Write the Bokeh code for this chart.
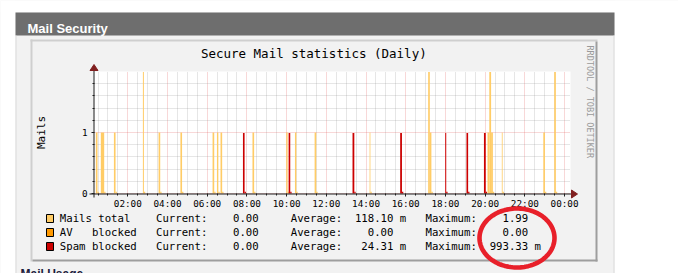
import numpy as np
from bokeh.plotting import figure
from bokeh.models import Range1d, FixedTicker, BoxAnnotation, Label, PolyAnnotation, Grid
from bokeh.embed import file_html
from bokeh.resources import INLINE

# ------------------------------------------------------------------ data
hour_ticks = [2, 4, 6, 8, 10, 12, 14, 16, 18, 20, 22, 24]
hour_labels = ["02:00", "04:00", "06:00", "08:00", "10:00", "12:00",
               "14:00", "16:00", "18:00", "20:00", "22:00", "00:00"]
y_ticks = [0, 1]
y_labels = ["0", "1"]

step_hours = 5 / 60          # rrd step (5 minutes)
tail_value = 0.028           # small residue drawn after each burst

# Mails total (start hour, width in hours, value)
mails_start = [0.39, 0.64, 1.30, 2.76, 3.55, 4.65, 6.27, 6.49, 6.67, 8.28,
               9.98, 10.42, 11.41, 14.18, 17.13, 17.21, 20.12, 20.21, 20.30,
               20.84, 22.93, 23.48]
mails_width = [0.083, 0.17, 0.083, 0.05, 0.083, 0.083, 0.083, 0.07, 0.083, 0.083,
               0.07, 0.07, 0.083, 0.04, 0.083, 0.083, 0.09, 0.09, 0.09,
               0.04, 0.083, 0.083]
mails_value = [1, 1, 1, 1.99, 1, 1, 1, 1, 1, 1,
               1, 1, 1, 1, 1.99, 1, 1, 1.99, 1,
               1, 1, 1.99]

# Spam blocked
spam_start = [7.80, 10.10, 13.32, 15.72, 17.99, 19.06, 19.94]
spam_width = [0.083, 0.083, 0.09, 0.09, 0.05, 0.083, 0.09]
spam_value = [0.99, 0.99, 0.99, 0.99, 0.99, 0.99, 0.99]

series_names = ["Mails total", "AV   blocked", "Spam blocked"]
series_colors = ["#FFCC66", "#FF9900", "#CC0000"]
current_vals = [0.00, 0.00, 0.00]
current_units = [" ", " ", " "]
average_vals = [118.10, 0.00, 24.31]
average_units = ["m", " ", "m"]
maximum_vals = [1.99, 0.00, 993.33]
maximum_units = [" ", " ", "m"]

chart_title = "Secure Mail statistics (Daily)"
y_title = "Mails"
watermark = "RRDTOOL / TOBI OETIKER"
panel_title = "Mail Security"
next_panel_title = "Mail Usage"

# ------------------------------------------------------------------ layout
W, H = 678, 273
X_START, X_END = 0.322, 24.30          # visible time window (hours)
Y_START, Y_END = 0.0, 2.0
PX_L, PX_R, PX_T, PX_B = 94, 570, 71, 193   # graph canvas inside the page
MONO = "DejaVu Sans Mono"

sx = (X_END - X_START) / (PX_R - PX_L)
sy = (Y_END - Y_START) / (PX_B - PX_T)
x_range = Range1d(X_START - PX_L * sx, X_END + (W - PX_R) * sx)
y_range = Range1d(Y_START - (H - PX_B) * sy, Y_END + PX_T * sy)

p = figure(width=W, height=H, x_range=x_range, y_range=y_range,
           min_border=0, min_border_left=0, min_border_right=0,
           min_border_top=0, min_border_bottom=0,
           toolbar_location=None, output_backend="svg", title=None)
p.border_fill_color = "#F2F2F2"
p.background_fill_color = "#F2F2F2"
p.outline_line_color = None


def cbox(l, r, t, b, color, line_color=None, lw=1, level="annotation"):
    box = BoxAnnotation(left=l, right=r, top=t, bottom=b,
                        left_units="canvas", right_units="canvas",
                        top_units="canvas", bottom_units="canvas",
                        fill_color=color, fill_alpha=1.0,
                        line_color=line_color, line_width=lw, line_alpha=1.0,
                        level=level)
    p.add_layout(box)
    return box


def clabel(x, y, text, size, font=MONO, color="#000000", align="left",
           baseline="middle", angle=0, style="normal"):
    lab = Label(x=x, y=y, x_units="canvas", y_units="canvas", text=text,
                text_font=font, text_font_size=size, text_color=color,
                text_align=align, text_baseline=baseline, angle=angle,
                text_font_style=style)
    p.add_layout(lab)
    return lab


# page background pieces
cbox(0, 15, 0, H, "#FFFFFF", level="image")
cbox(614, W, 0, H, "#FFFFFF", level="image")
cbox(0, W, 0, 12, "#FFFFFF", level="image")
cbox(15, 614, 12, 35, "#6E6E6E", level="image")
cbox(15, 16, 35, H, "#D9D9D9", level="image")
cbox(613, 614, 35, H, "#D9D9D9", level="image")
# rrd image shading
cbox(30, 597, 39, 41, "#CFCFCF", level="image")
cbox(30, 32, 39, 261, "#CFCFCF", level="image")
cbox(595, 597, 41, 261, "#9E9E9E", level="image")
cbox(32, 597, 259, 261, "#9E9E9E", level="image")
# white graph canvas (data units)
p.add_layout(BoxAnnotation(left=X_START, right=X_END, bottom=Y_START, top=Y_END,
                           fill_color="#FFFFFF", fill_alpha=1.0, line_color=None,
                           level="image"))

# ------------------------------------------------------------------ axes / grid
xt = FixedTicker(ticks=hour_ticks,
                 minor_ticks=[h / 2 for h in range(1, 49) if h % 4 != 0])
yt = FixedTicker(ticks=y_ticks, minor_ticks=[i / 5 for i in range(1, 10) if i != 5])
p.xaxis.ticker = xt
p.yaxis.ticker = yt
p.xaxis.major_label_overrides = {t: l for t, l in zip(hour_ticks, hour_labels)}
p.yaxis.major_label_overrides = {t: l for t, l in zip(y_ticks, y_labels)}
p.xaxis.fixed_location = Y_START
p.yaxis.fixed_location = X_START
p.xaxis.bounds = (X_START, X_END)
p.yaxis.bounds = (Y_START, Y_END)

for ax in (p.xaxis[0], p.yaxis[0]):
    ax.axis_line_color = None
    ax.major_tick_line_color = "#1F1F1F"
    ax.minor_tick_line_color = "#1F1F1F"
    ax.major_tick_in = 0
    ax.major_tick_out = 3
    ax.minor_tick_in = 0
    ax.minor_tick_out = 2
    ax.major_label_text_font = MONO
    ax.major_label_text_font_size = "9.3px"
    ax.major_label_text_color = "#000000"
p.xaxis.major_label_standoff = 1
p.yaxis.major_label_standoff = 4

MAJ_COLOR, MAJ_ALPHA = "#DE4F4F", 0.45
MIN_COLOR, MIN_ALPHA = "#8F8F8F", 0.45
if "cross_bounds" in Grid.properties():
    p.xgrid.ticker = xt
    p.ygrid.ticker = yt
    p.xgrid.bounds = (X_START, X_END)
    p.ygrid.bounds = (Y_START, Y_END)
    p.xgrid.cross_bounds = (Y_START, Y_END)
    p.ygrid.cross_bounds = (X_START, X_END)
    for g in (p.xgrid[0], p.ygrid[0]):
        g.grid_line_color = MAJ_COLOR
        g.grid_line_alpha = MAJ_ALPHA
        g.grid_line_dash = "1 1"
        g.minor_grid_line_color = MIN_COLOR
        g.minor_grid_line_alpha = MIN_ALPHA
        g.minor_grid_line_dash = "1 1"
else:
    p.xgrid.visible = False
    p.ygrid.visible = False
    for ticks, col, alp in ((xt.minor_ticks, MIN_COLOR, MIN_ALPHA),
                            (xt.ticks, MAJ_COLOR, MAJ_ALPHA)):
        p.segment(x0=ticks, x1=ticks, y0=Y_START, y1=Y_END, line_color=col,
                  line_alpha=alp, line_dash="1 1", level="underlay")
    for ticks, col, alp in ((yt.minor_ticks, MIN_COLOR, MIN_ALPHA),
                            (yt.ticks, MAJ_COLOR, MAJ_ALPHA)):
        p.segment(x0=X_START, x1=X_END, y0=ticks, y1=ticks, line_color=col,
                  line_alpha=alp, line_dash="1 1", level="underlay")

# ------------------------------------------------------------------ data marks
ms = np.array(mails_start)
mw = np.array(mails_width)
p.quad(left=ms, right=ms + mw, bottom=0, top=mails_value,
       fill_color=series_colors[0], line_color=None)
p.quad(left=ms + mw, right=ms + mw + step_hours * 0.8, bottom=0, top=tail_value,
       fill_color=series_colors[0], line_color=None)
ss = np.array(spam_start)
sw = np.array(spam_width)
p.quad(left=ss, right=ss + sw, bottom=0, top=spam_value,
       fill_color=series_colors[2], line_color=None)
p.quad(left=ss + sw, right=ss + sw + step_hours * 0.8, bottom=0, top=tail_value,
       fill_color=series_colors[2], line_color=None)

# axis lines with arrows
cbox(89, 572, 193, 194, "#1F1F1F")
cbox(93, 94, 67, 197, "#1F1F1F")
p.add_layout(PolyAnnotation(xs=[571, 571, 577], ys=[189.5, 197.5, 193.5],
                            xs_units="canvas", ys_units="canvas",
                            fill_color="#801F1F", fill_alpha=1,
                            line_color="#801F1F", line_alpha=1))
p.add_layout(PolyAnnotation(xs=[89.5, 97.5, 93.5], ys=[70, 70, 64],
                            xs_units="canvas", ys_units="canvas",
                            fill_color="#801F1F", fill_alpha=1,
                            line_color="#801F1F", line_alpha=1))

# titles
clabel(27, 28, panel_title, "13px", font="Liberation Sans", color="#FFFFFF",
       baseline="alphabetic", style="bold")
clabel(20, 273, next_panel_title, "12px", font="Liberation Sans", color="#1C1C3C",
       baseline="alphabetic", style="bold")
clabel(313.3, 52.5, chart_title, "12.5px", align="center")
clabel(41, 132, y_title, "11px", align="center", angle=np.pi / 2)
clabel(589, 45, watermark, "8.5px", color="#9A9A9A", angle=-np.pi / 2)

# legend
row_y = [218, 232, 246]
for i in range(3):
    cbox(46, 53, row_y[i] - 4, row_y[i] + 4, series_colors[i], line_color="#000000")
    row = (series_names[i].ljust(15) + "Current:" + f"{current_vals[i]:8.2f}" + " "
           + current_units[i] + "   " + "Average:" + f"{average_vals[i]:8.2f}" + " "
           + average_units[i] + "   " + "Maximum:" + f"{maximum_vals[i]:8.2f}" + " "
           + maximum_units[i])
    clabel(59.3, row_y[i], row.replace(" ", "\u00a0"), "10.67px")

# hand-drawn red circle
t = np.linspace(0, 2 * np.pi, 120)
p.add_layout(PolyAnnotation(xs=list(516.5 + 37.5 * np.cos(t)),
                            ys=list(237.5 + 29.5 * np.sin(t)),
                            xs_units="canvas", ys_units="canvas",
                            fill_color=None, fill_alpha=0,
                            line_color="#E8202A", line_alpha=1.0, line_width=4.6))

open("out.html", "w").write(file_html(p, INLINE))
